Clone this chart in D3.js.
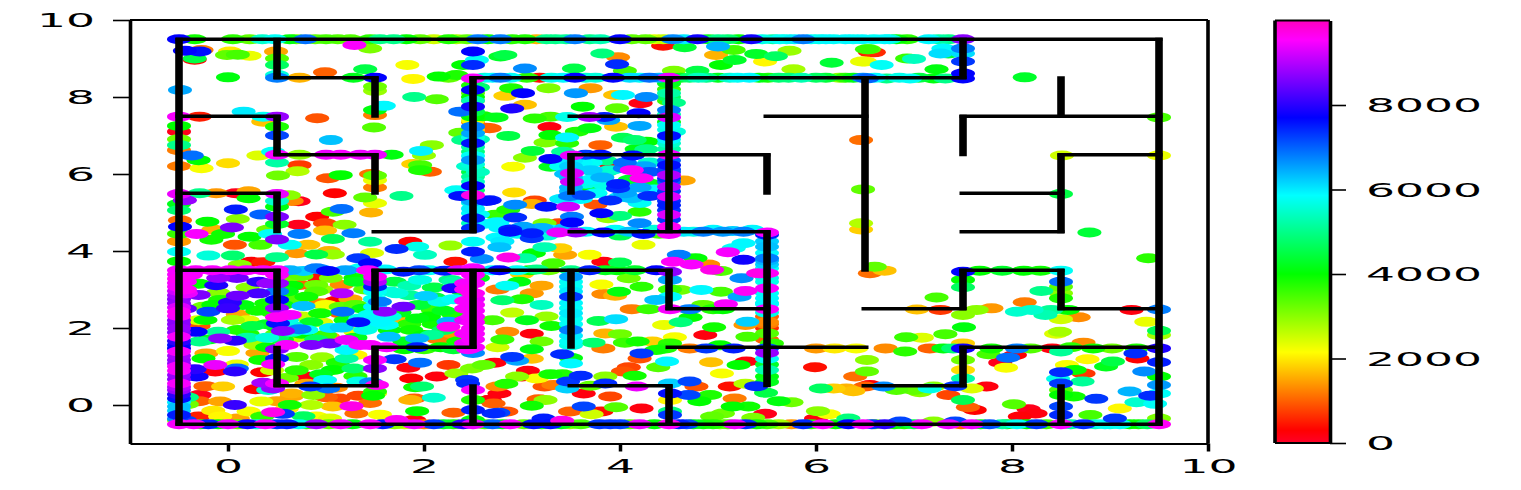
<!DOCTYPE html>
<html>
<head>
<title>Maze scatter</title>
<script src="https://d3js.org/d3.v7.min.js"></script>
<style>
  body { margin: 0; background: #fff; }
  text { font-family: "DejaVu Sans"; font-size: 19px; fill: #000; }
</style>
</head>
<body>
<script>
// tick labels
var xTicks = [0, 2, 4, 6, 8, 10];
var yTicks = [0, 2, 4, 6, 8, 10];
var barTicks = [0, 2000, 4000, 6000, 8000];

// gist_rainbow stops
var cmapStops = [0, 0.03, 0.215, 0.4, 0.586, 0.77, 0.954, 1];
var cmapColors = ["#ff0029", "#ff0000", "#ffff00", "#00ff00", "#00ffff", "#0000ff", "#ff00ff", "#ff00bf"];

// maze walls: [y, x0, x1]
var wallsH = [
  [9.5,-0.5,9.5],[-0.5,-0.5,9.5],[8.5,0.5,1.5],[8.5,2.5,7.5],[7.5,-0.5,0.5],[7.5,3.5,4.5],[7.5,5.5,6.5],[7.5,7.5,9.5],
  [6.5,0.5,1.5],[6.5,3.5,5.5],[6.5,8.5,9.5],[5.5,-0.5,0.5],[5.5,7.5,8.5],[4.5,1.5,2.5],[4.5,3.5,5.5],[4.5,7.5,8.5],
  [3.5,-0.5,0.5],[3.5,1.5,4.5],[3.5,7.5,8.5],[2.5,4.5,5.5],[2.5,6.5,7.5],[2.5,8.5,9.5],[1.5,1.5,2.5],[1.5,4.5,6.5],
  [1.5,7.5,9.5],[0.5,0.5,1.5],[0.5,3.5,4.5],[0.5,6.5,7.5]
];
// maze walls: [x, y0, y1]
var wallsV = [
  [-0.5,-0.5,9.5],[9.5,-0.5,9.5],[0.5,8.5,9.5],[7.5,8.5,9.5],[1.5,7.5,8.5],[8.5,7.5,8.5],[2.5,4.5,8.5],[4.5,4.5,8.5],
  [6.5,3.5,8.5],[0.5,6.5,7.5],[7.5,6.5,7.5],[1.5,5.5,6.5],[3.5,5.5,6.5],[5.5,5.5,6.5],[0.5,4.5,5.5],[8.5,4.5,6.5],
  [5.5,0.5,4.5],[0.5,2.5,3.5],[1.5,2.5,3.5],[2.5,1.5,3.5],[3.5,1.5,3.5],[4.5,2.5,3.5],[7.5,2.5,3.5],[8.5,2.5,3.5],
  [0.5,0.5,1.5],[1.5,0.5,1.5],[7.5,0.5,1.5],[2.5,-0.5,0.5],[4.5,-0.5,0.5],[8.5,-0.5,0.5]
];

// scatter points: [x, y, value]
var pointsTopRow = [
  [-0.5,9.5,7700],[-0.34,9.5,3900],[0.22,9.5,3300],[0.48,9.5,5800],[0.63,9.5,4100],[0.79,9.5,6900],[0.89,9.5,3300],[1.12,9.5,3400],
  [1.45,9.5,3700],[1.69,9.5,5000],[1.96,9.5,3300],[2.1,9.5,2500],[2.44,9.5,3300],[2.55,9.5,6800],[3.03,9.5,3800],[3.15,9.5,1600],
  [3.34,9.5,5000],[3.54,9.5,6800],[3.69,9.5,5000],[4,9.5,7700],[4.26,9.5,3300],[4.44,9.5,2600],[4.54,9.5,6700],[4.79,9.5,7800],
  [5,9.5,5000],[5.21,9.5,4000],[5.34,9.5,7800],[5.56,9.5,5200],[5.87,9.5,6800],[6.18,9.5,5800],[6.38,9.5,5800],[6.59,9.5,5800],
  [6.93,9.5,3700],[7.35,9.5,5000],[7.5,9.5,8700],[5.7,9.5,5700],[6.03,9.5,5700],[6.75,9.5,5600],
  [0.05,9.5,3700],[0.35,9.5,5500],[0.7,9.5,3200],[1,9.5,3500],[1.25,9.5,3400],[1.55,9.5,5000],[1.82,9.5,4000],[2.25,9.5,3800],[2.33,9.5,2800],
  [2.65,9.5,4000],[2.78,9.5,6800],[2.9,9.5,3700],[3.25,9.5,5000],[3.45,9.5,5100],[3.8,9.5,5300],[4.12,9.5,3300],[4.35,9.5,2300],[4.65,9.5,6000],
  [4.9,9.5,4200],[5.1,9.5,4800],[5.45,9.5,5700],[5.63,9.5,5800],[5.78,9.5,6000],[5.95,9.5,5800],[6.1,9.5,5900],[6.3,9.5,5900],[6.47,9.5,5900],
  [6.7,9.5,5900],[6.82,9.5,4000],[7.15,9.5,5900],[7.25,9.5,5200]
];
var pointsTopLeft = [
  [1.29,9.35,9500],[1.45,9.26,3100],[-0.44,9.2,7700],[-0.29,9.18,7600],[-0.34,9,4500],[-0.34,8.97,300],[-0.27,9.22,1200],[0.02,9.18,2000],
  [0.1,9.1,3500],[-0.01,9.09,3300],[0.22,9.07,2300],[0.49,9.18,1500],[0.5,9,3400],[0.5,8.83,4700],[0.5,8.57,5600],[0.5,8.5,6800],
  [0.73,8.5,1600],[0.99,8.64,1000],[1.4,8.72,4500],[1.28,8.5,4200],[1.5,8.5,7700],[1.83,8.83,2200],[1.89,8.47,2100],[2.15,8.53,4000],
  [2.25,8.5,3300],[2.33,8.57,3800],[2.5,9.18,7700],[2.54,8.96,5800],[2.5,8.83,7400],[2.4,8.83,4000],[2.78,9.05,4300],[0,8.51,4100],
  [-0.49,8.18,6500],[1.5,8.27,3200],[1.5,8.16,2900],[1.9,8,5000],[2.13,7.94,3400],[2.37,7.62,6900],[1.59,7.77,5900],[1.5,7.66,4100],
  [1.5,7.53,1200],[0.91,7.45,900],[0.16,7.62,6000],[-0.29,7.49,500],[-0.5,7.49,9500],[0.5,7.49,8800],[0.36,7.49,5800],[-0.5,7.25,4000],
  [-0.5,7.1,100],[-0.5,6.9,3200],[-0.5,6.75,5000],[-0.5,6.62,1200],[0.5,7.23,3800],[0.5,7,7200],[0.36,7.36,1700],[1.49,7.21,3400],
  [1.05,6.88,6300],[2.37,7.07,3300],[2.4,6.88,5000],[2.08,6.75,3000],[1.97,6.6,5950],[2,6.48,2900],[0.31,6.48,2400],[0.46,6.58,5800],
  [0.5,6.5,9500],[0.5,6.3,5200],[0.73,6.5,3000],[1,6.5,9400],[1.15,6.5,9500],[1.35,6.5,9400],[1.5,6.5,9400],[1.67,6.5,4100],
  [-0.37,6.48,6900],[-0.3,6.36,4000],[-0.27,6.15,2200],[-0.5,6.2,1200],[0,6.28,1900],[0.73,6.23,700],[0.51,5.96,3200],[0.71,6.07,2700],
  [1.02,5.89,900],[1.15,5.97,4000],[1.5,5.96,3300],[1.46,6,1100],[1.5,5.84,2300],[1.5,5.65,1200],[1.89,6.26,1800],[1.96,6.23,3500],
  [2.06,6.06,1000],[1.96,6.1,3800],[1.77,5.43,5000],[1.4,5.39,3300],[1.5,5.24,2300],[1.46,5,1600],[1.09,5.5,300],[1.16,5.09,6900],
  [1.07,5.02,3500],[0.91,4.89,300],[0.99,4.72,800],[0.72,4.68,100],[1.19,4.68,3000],[0.99,4.53,1700],[0.73,4.44,6800],[-0.5,5.48,9400],
  [-0.29,5.5,5000],[-0.12,5.5,1400],[0.08,5.5,100],[0.21,5.55,1500],[0.21,5.37,4000],[0.5,5.48,9400],[0.62,5.45,3000],[0.72,5.29,100],
  [0.65,5.3,1300],[-0.44,5.32,8800],[0.08,5.08,7500],[0.34,4.95,7000],[0.5,4.89,8600],[0.1,4.83,3000],[-0.21,4.76,4000],[0.04,4.61,8600],
  [-0.49,4.63,7700],[-0.49,4.8,1100],[-0.5,5.06,4800],[-0.5,5.22,4200],[-0.32,4.44,9500],[-0.15,4.55,1600],[-0.05,4.44,3900],[0.22,4.37,4000],
  [0.41,4.55,3200],[0.5,4.3,8600],[0.43,4.44,5800],[-0.5,4.45,3600],[-0.5,4.25,1400],[0.5,4.7,4300],[0.5,5.15,4100],[0.5,5.3,5500]
];
var pointsWallX25 = [
  [2.5,8.48,9500],[2.5,8.18,7700],[2.5,8,4000],[2.5,7.75,7800],[2.5,7.49,4000],[2.5,7.23,6800],[2.5,7.06,6500],[2.5,6.8,7600],
  [2.5,6.58,4900],[2.5,6.36,6600],[2.5,6.15,4100],[2.5,5.93,5100],[2.5,5.69,7700],[2.5,5.45,9700],[2.5,5.1,6000],[2.5,4.85,7500],
  [2.5,4.59,7400],[2.64,5.3,7600],[2.37,5.43,7600],[2.33,5.58,5800],[2.78,4.6,5900],[2.5,7.9,1200],[2.5,7.35,1100],[2.63,7.2,1000],
  [2.6,7.5,3900],[2.55,6.9,5300],[2.45,6.2,5500],[2.55,6.05,5400],[2.5,5.25,5700],[2.55,4.95,5800],[2.6,4.7,5900],[2.55,8.25,4800],[2.47,7.65,2400],
  [2.5,8.3,3800],[2.5,8.1,3300],[2.5,7.9,5300],[2.5,7.62,4500],[2.5,7.38,2100],[2.5,7.14,1800],[2.5,6.95,5700],[2.5,6.7,5200],[2.5,6.47,5800],
  [2.5,6.25,5600],[2.5,6.05,4500],[2.5,5.8,5400],[2.5,5.58,4800],[2.5,5.3,6500],[2.5,4.98,5800],[2.5,4.72,5400]
];
var pointsUpperMiddle = [
  [2.78,8.5,6800],[2.88,8.5,5800],[3.18,8.5,400],[3.54,8.5,7700],[3.93,8.5,7700],[4.3,8.5,6900],[4.5,8.5,9400],[4.71,8.5,4800],[4.88,8.5,5000],
  [5.32,8.5,5900],[5.51,8.5,3800],[6,8.5,4700],[6.24,8.5,3000],[6.38,8.5,4100],[6.48,8.5,6700],[4.44,9.33,400],[4.66,9.29,4400],[5,9.31,6400],
  [4.98,9.09,1600],[5.16,9.22,3500],[5.39,9.12,4300],[5.59,9.06,4700],[5.73,9.2,2900],[5.48,8.92,2100],[5.17,8.96,4300],[5.03,8.83,4000],
  [5.77,8.72,2800],[6.16,8.89,4400],[6.47,8.92,2300],[6.52,9.24,3600],[6.55,9.16,500],[2.83,9.09,4500],[3.03,8.74,6700],[3.53,8.74,4500],
  [3.82,9.13,4900],[3.98,9.03,1300],[3.97,8.85,7400],[4.05,8.68,3500],[4.55,8.68,3100],[4.79,8.68,4500],[3.01,8.1,7700],[3.27,8.23,3100],
  [2.89,8.23,3800],[2.83,8.03,1800],[3.03,7.8,1700],[2.9,7.7,7900],[3.55,8.1,6600],[3.7,8.23,1400],[3.95,8.05,1700],[4.03,8.05,5900],
  [4.27,8,6700],[4.21,7.84,150],[3.62,7.75,4000],[3.97,7.71,3300],[4.19,7.58,7700],[4.5,8,4700],[4.5,7.66,6800],[4.5,7.47,9300],[4.5,7.27,5800],
  [4.5,6.99,7600],[4.5,6.8,5500],[4.5,8.2,3600],[4.55,7.85,5000],[4.55,7.1,5600],[2.74,7.47,4200],[2.67,7.19,1000],[3.13,7.44,3700],[3.29,7.49,3500],[3.46,7.48,5700],
  [3.69,7.48,8900],[3.84,7.48,7500],[3.88,7.4,6500],[3.96,7.23,1700],[4.2,7.25,6500],[3.28,7.22,200],[3.69,7.19,4100],[3.56,7.1,3800],
  [3.29,7.01,4000],[2.86,6.99,4500],[3.24,6.82,3100],[3.46,6.95,5900],[3.46,6.8,3700],[4.03,6.94,4600],[4.15,6.88,4800],[3.8,6.75,1000],
  [4.27,6.84,4000],[4.17,6.65,4100],[4.27,6.64,5000],[3.11,6.6,4400],[3.03,6.42,3000],[3.29,6.39,7700],[3.29,6.19,4200],[2.91,6.19,2200],
  [3.42,6.58,5100],[3.51,6.48,9400],[3.8,6.5,7600],[4.13,6.48,7600],[4.5,6.5,9500],[3.65,6.5,7300],[3.9,6.26,300],[4.05,6.15,6800],[4.12,6.1,9600],
  [4.22,5.89,9600],[3.51,6.02,9300],[3.51,5.8,9200],[3.82,5.91,6400],[3.98,5.74,7500],[3.98,5.63,7400],[3.63,5.45,7200],[3.49,5.43,6800],
  [3.9,5.31,7400],[4.12,5.37,6300],[4.3,5.43,7400],[4.5,6.23,7600],[4.5,5.97,9000],[4.5,5.67,9000],[4.5,5.41,9300],[4.5,5.19,7500],[4.5,4.94,9300],
  [4.5,4.63,9600],[4.5,6.05,7200],[4.5,5.8,7000],[4.65,5.83,1500],[3.47,5.15,9200],[3.51,4.89,6800],[3.51,4.74,7700],[3.81,4.98,7700],[4,4.91,4900],
  [4.2,5.02,3700],[4.2,4.72,6700],[3.88,4.85,2900],[3.4,6.2,5800],[3.45,6,6300],[3.6,6.3,5900],[4.3,6.3,5500],[3.75,6.05,4800],[3.65,5.75,5700],[4.3,5.75,4200],[3.4,5.35,6000],[3.85,6.05,4300],[4.05,5.5,6500],[3.75,5.2,900],
  [2.92,5.52,1900],[2.67,5.32,7500],[2.93,5.2,6700],[3.13,5.31,800],[3.1,5.22,1600],[3.25,5.15,7600],[2.93,4.87,7400],[2.86,5.07,3800],
  [2.73,4.94,3600],[3.23,4.72,3100],[3.38,4.72,800],[3.01,4.63,6500],[2.88,4.56,7500],[3.1,4.46,7500],[3.37,4.48,9400],[3.55,4.48,8800],
  [3.83,4.48,7700],[4.24,4.44,7600],[4.5,4.44,9500],[4.85,4.5,6800],[5.05,4.5,6600],[5.26,4.5,6800],[5.5,4.48,9500],[2.75,4.75,5900],[2.95,4.45,5800],[3.25,4.4,5600],[4,4.4,4600],[4.4,4.45,3500],
  [2.62,8.5,5600],[2.7,8.5,5900],[3.05,8.5,3700],[3.3,8.5,5700],[3.42,8.5,5900],[3.65,8.5,5500],[3.75,8.5,5600],[4.1,8.5,6100],[4.2,8.5,5800],[4.4,8.5,6400],[4.62,8.5,4200],[4.8,8.5,5400],
  [5,8.5,4200],[5.12,8.5,5500],[5.2,8.5,5800],[5.42,8.5,4100],[5.62,8.5,4800],[5.72,8.5,4900],[5.85,8.5,5300],[6.1,8.5,4400],[6.3,8.5,3700],[6.6,8.5,5900],[6.85,8.5,5700],[7.05,8.5,4500],
  [4.5,8.35,4200],[4.5,8.1,5200],[4.5,7.9,3600],[4.5,7.55,5300],[4.5,7.35,4100],[4.5,7.15,5700],[4.5,6.9,5900],[4.5,6.65,5200],[4.5,6.35,7000],[4.5,6.12,7200],[4.5,5.88,7400],[4.5,5.55,7300],
  [4.5,5.3,7400],[4.5,5.06,7300],[4.5,4.82,7300],[4.5,4.55,7500],[3.5,6.35,6000],[3.5,6.2,6200],[3.5,5.9,6300],[3.5,5.65,6400],[3.5,5.55,6300],
  [3.7,6.3,5800],[3.85,6.35,5000],[4.05,6.3,6900],[4.25,6.2,6500],[3.7,6.1,6200],[3.9,6.1,5500],[4.3,6.05,7100],[3.7,5.85,5900],[3.85,5.7,5700],[4.1,5.85,4300],[4.2,5.65,6500],[3.65,5.6,4000],
  [4.35,5.6,5900],[3.75,5.5,5800],[4,5.4,6100],[4.2,5.25,5800],[3.6,5.35,5900],[3.3,4.55,5800],[3.45,4.6,6300],[3.65,4.5,5900],[3.95,4.55,5800],[4.1,4.5,6300],[4.35,4.55,5600],[4.65,4.5,6000],
  [4.75,4.5,5700],[4.95,4.55,5900],[5.15,4.52,6200],[5.35,4.55,5900],[2.75,4.35,5900],[3,4.6,6100],[3.2,4.6,6400],[2.8,4.25,6000]
];
var pointsFarRight = [
  [6.46,6.88,1100],[6.48,5.6,3300],[6.46,4.72,2700],[6.46,4.56,1800],[6.54,9.24,3400],[6.59,9.16,600],[6.5,8.92,2100],[6.67,8.83,5800],
  [6.93,9,3600],[7,8.99,5400],[7.3,9.26,5900],[7.27,9.13,6100],[7.35,9.13,4400],[7.5,9.26,6800],[7.5,9.13,6100],[7.5,8.92,7300],[7.5,8.61,7700],
  [7.5,8.48,7700],[7.23,8.72,4100],[6.96,8.48,5800],[7.2,8.48,4100],[7.32,8.48,5000],[6.52,8.48,7000],[6.72,8.48,5000],[8.13,8.51,4300],
  [9.5,7.47,3500],[8.51,6.48,2500],[9.5,6.48,2300],[8.5,5.48,4500],[8.79,4.48,4400],[6.6,3.59,3300],[6.7,3.49,1700],[6.55,3.42,1100],
  [9.39,3.81,3700],[7.23,2.79,3500],[7.03,2.48,1700],[7.27,2.47,700],[7.5,3.46,7700],[7.67,3.49,4000],[7.9,3.49,4300],[8.12,3.49,4000],
  [8.29,3.49,3900],[8.5,3.49,5800],[8.5,3.2,6900],[8.5,3.07,3300],[8.5,2.9,3000],[8.5,2.77,3800],[7.5,3.25,4000],[7.5,3.06,4700],[8.3,2.96,5000],
  [8.13,2.67,1200],[7.79,2.51,1400],[7.64,2.47,3000],[7.5,2.34,3000],[8.05,2.42,5500],[8.2,2.47,5500],[8.34,2.34,5300],[8.4,2.47,5100],
  [8.57,2.47,4000],[8.68,2.28,1300],[8.5,2.23,2500],[9.22,2.47,200],[9.5,2.48,6800],[9.37,2.16,2300],[9.5,1.93,4600],[9.5,1.82,2800],
  [8.49,1.9,2800],[8.45,1.85,2400],[7.51,2.02,4100],[7.32,1.84,3500],[6.92,1.76,3600],[7.08,1.75,2400],[7.5,1.6,1800],[6.71,1.47,1300],
  [6.91,1.39,3700],[7.16,1.47,1000],[7.3,1.47,4100],[7.4,1.47,4800],[7.5,1.47,7800],[7.79,1.47,3900],[8.05,1.47,6800],[8.19,1.47,3400],[8.41,1.47,200],
  [8.5,1.39,5100],[8.6,1.5,3700],[8.73,1.62,1300],[8.83,1.47,3900],[9.02,1.47,3200],[9.27,1.47,3800],[9.5,1.47,7900],[7.76,1.32,3500],
  [7.96,1.23,6900],[8.03,1.3,300],[7.88,1.1,100],[7.94,0.97,2200],[9.26,1.34,7400],[7.5,1.17,3200],[7.5,0.91,1900],[7.5,0.69,5200],[7.59,0.43,2400],
  [7.42,0.49,7300],[7.74,0.48,200],[7.35,0.26,800],[7.5,0.13,4600],[7.55,-0.06,1000],[7.62,-0.13,300],[8.02,0.02,3400],[8.17,-0.11,100],
  [8.24,-0.22,200],[8.08,-0.3,250],[8.77,1.19,2100],[8.56,1.04,2200],[8.64,0.91,4000],[8.5,0.85,7400],[8.73,0.82,700],[8.96,1,4200],[9.03,1.13,4500],
  [9.28,1.21,300],[9.5,1.11,7500],[9.35,0.87,6700],[9.5,0.74,4000],[9.5,0.52,6600],[9.5,0.3,5800],[9.41,0.24,7400],[9.46,0.03,5800],[9.2,0.35,6400],
  [8.86,0.16,7300],[9.27,0.07,5500],[9.1,-0.09,2100],[8.8,-0.26,3500],[9.05,-0.35,7300],[9.5,-0.35,3100],[8.72,0.61,5100],[8.63,0.22,3900],
  [8.5,0.56,7300],[8.47,0.68,5700],[8.5,0.39,3400],[8.5,0.26,4000],[8.5,-0.04,7200],[8.5,-0.26,7400],[7.2,0.48,3000],[7,0.39,3300],[6.82,0.39,3400],
  [7.06,0.33,3000],[6.69,0.48,6700],[6.55,0.52,300],[7.16,0.43,5700],[6.86,-0.43,7200],[7.2,-0.43,3000],[7.42,-0.43,7200],
  [6.57,-0.5,7300],[7.08,-0.5,9500],[7.35,-0.5,9400],[7.59,-0.5,9400],[7.77,-0.5,7100],[8.05,-0.5,5800],[8.25,-0.5,7300],[8.5,-0.5,9500],[8.73,-0.5,7400],
  [8.95,-0.5,5800],[9.1,-0.5,5800],[9.29,-0.5,3900],[9.5,-0.5,9600],[6.8,-0.5,3900],[7.95,-0.5,4100],[8.35,-0.5,3500],
  [6.6,-0.5,3200],[6.7,-0.5,8000],[6.9,-0.5,3800],[7,-0.5,4500],[7.48,-0.5,1000],[7.68,-0.5,4200],[7.9,-0.5,5200],[8.15,-0.5,4000],[8.6,-0.5,5200],[8.85,-0.5,5500],[9,-0.5,5600],[9.2,-0.5,4000],[9.38,-0.5,4700]
];
var pointsLowerMiddle = [
  [4.24,4.16,2300],[3.1,4.33,7300],[3.23,4.1,5300],[3.39,4.07,1800],[3.44,3.9,1500],[3.12,3.94,4000],[3.03,3.81,5200],[2.86,3.83,9700],[2.77,4.1,6300],
  [2.88,4.5,7600],[3.69,3.9,2200],[3.32,3.68,3500],[3.83,3.72,200],[4,3.7,4600],[4.6,3.9,6800],[4.54,3.72,9600],[4.73,3.65,9500],[4.77,3.81,4000],
  [4.9,3.65,1300],[4.94,3.51,9700],[5.03,3.48,3400],[5.1,3.97,9500],[5.26,4.2,5900],[5.16,4.07,5800],[5.26,3.77,7800],[5.5,4.42,7500],[5.5,4.11,6300],
  [5.5,3.81,6800],[5.5,3.42,9600],[5.5,3.03,9500],[5.5,2.77,5900],[5.5,2.49,9500],[5.5,2.16,1300],[5.5,1.86,3400],[5.5,1.47,7200],[5.5,1.35,8800],[5.5,0.91,5300],
  [5.5,0.74,4100],[5.5,3.95,5900],[5.5,3.65,6200],[5.5,3.2,5700],[5.5,2.65,5600],[5.5,2.3,1000],[5.5,2,600],[5.55,1.6,3700],[5.24,3.29,6700],[5.41,3.42,9700],[5.28,2.96,9600],[5.22,2.81,6500],[5.08,2.62,9500],[4.83,2.99,5900],[5.03,2.94,3500],
  [4.85,2.6,3300],[4.51,3.46,8700],[4.51,3.25,6500],[4.51,3,3600],[4.37,2.73,6300],[4.51,2.81,5900],[4.61,2.99,3200],[4.51,2.49,9500],[4.71,2.49,6800],
  [5.05,2.49,4000],[4.95,2.49,3800],[2.77,3.5,7700],[3.08,3.5,4000],[3.27,3.5,3200],[3.69,3.5,7500],[3.97,3.5,4000],[4.37,3.5,7700],[3.5,3.5,5000],[3.5,3.33,6600],[3.5,3.07,5800],
  [3.5,2.81,7300],[3.5,2.51,5800],[3.5,2.25,5800],[3.5,1.95,6800],[3.5,1.65,5800],[3.41,1.32,7400],[3.5,1.08,5900],[3.5,1.22,4100],[3.81,3.13,2200],[3.83,2.88,1300],
  [3.99,2.94,4100],[3.95,2.84,1600],[4.09,3.29,3200],[4.22,3.07,3700],[4.12,2.49,1200],[4.29,2.49,3600],[3.96,2.23,6100],[3.78,2.18,4600],[4.45,2.08,2300],
  [4.62,2.15,4900],[4.72,2.28,4000],[4.96,2.02,3900],[4.87,1.82,200],[4.56,1.76,2200],[3.85,1.86,1600],[4,1.84,3200],[4.05,1.62,3600],[4.18,1.65,3900],
  [4.33,1.65,1800],[4.51,1.6,3700],[4.46,1.47,3800],[4.37,1.43,3900],[3.73,1.62,4800],[3.83,1.47,1200],[4.22,1.34,7300],[4.2,1.21,900],[4.48,1.13,5900],
  [4.39,0.98,3400],[4.09,0.98,800],[4.15,0.76,3900],[4.03,0.87,900],[4.71,1.47,1200],[4.88,1.47,7300],[5.16,1.47,7500],[5.02,1.55,4000],[5.3,1.77,3500],
  [5.3,2.16,6200],[5.28,2.08,1400],[4.93,1.11,1700],[5.21,1.04,4000],[5.29,1.13,200],[5.04,0.82,2200],[5.12,0.48,400],[5.28,0.55,2700],[5.39,0.49,7400],
  [5.49,0.32,4500],[5.62,0.1,4100],[5.75,0.07,3200],[5.17,0.17,1200],[5.15,-0.04,4000],[5.31,-0.04,3900],[5.48,-0.23,100],[5.36,-0.33,3100],[4.94,-0.3,3300],
  [5.05,-0.22,3200],[4.81,0.1,4000],[4.92,0.26,3800],[4.7,0.26,7200],[4.71,0.61,7200],[4.78,0.48,900],[4.51,0.56,6200],[4.51,0.3,7600],[4.51,0.13,2100],
  [4.51,-0.17,4900],[4.51,-0.26,7300],[4.22,-0.09,200],[3.96,-0.06,3400],[3.9,0.22,800],[3.63,-0.04,7200],[3.71,-0.24,2500],[3.81,-0.17,400],[3.49,-0.17,1000],
  [3.41,-0.41,9700],[3.22,-0.35,7500],[3.24,0.13,3000],[3.1,-0.02,3900],[3.17,0.15,1000],[2.84,-0.17,900],[2.76,-0.2,7200],[2.77,0.3,200],[2.67,0.13,100],
  [2.84,0.55,3800],[2.75,0.48,1300],[3,0.74,300],[3.06,0.89,200],[2.95,0.74,3000],[3.15,0.69,2200],[3.29,0.8,3900],[3.41,0.8,3800],[3.23,0.48,900],[3.32,0.52,1200],
  [3.47,0.61,7300],[3.6,0.76,7400],[3.46,0.43,6200],[3.63,0.3,200],[3.85,0.56,7400],[3.85,0.74,3000],[4.17,0.48,9400],[3.7,0.5,3300],[2.88,-0.5,9500],[3.12,-0.5,7600],
  [3.29,-0.5,7600],[3.49,-0.5,3000],[3.79,-0.5,7300],[4,-0.5,7200],[4.2,-0.5,9400],[4.5,-0.5,9600],[4.68,-0.5,7200],[5.17,-0.5,9400],[5.39,-0.5,3900],[5.75,-0.5,1400],
  [5.87,-0.5,7400],[6.07,-0.5,9500],[6.33,-0.5,7700],[6.48,-0.5,9500],[4.85,-0.5,3900],[5.02,-0.5,3200],[6,1.47,1400],[6.19,1.47,2000],[6.41,1.47,2200],[5.99,0.98,400],
  [6.4,0.74,1100],[6.52,1.17,3000],[6.52,0.87,3300],[6.31,0.43,1600],[6.38,0.36,1700],[6.18,0.43,1800],[6.05,0.43,4700],[6.02,-0.16,3000],[6.13,-0.24,2200],
  [6.33,-0.35,4900],[6,-0.35,200],[6.5,0.48,1000],[2.97,3.2,4100],[3.1,2.9,1400],[3,2.75,3800],[3.2,2.6,5400],[2.75,3,1200],[2.9,2.4,2600],[3.05,2.2,4200],[3.25,2.3,2900],
  [2.85,1.9,1300],[3.1,1.85,200],[3.2,1.65,3200],[2.8,1.7,3600],[3.1,1.45,4100],[2.75,1.5,2500],[2.9,1.25,7300],[2.95,1.15,6500],[3.1,1.2,1700],[2.72,1.1,200],
  [2.85,3.1,5800],[2.8,2.72,4800],[3,3.4,1800],[2.7,2.2,3500],[3.2,3.1,1500],[3.3,2.05,3900],
  [2.8,-0.5,4000],[3.02,-0.5,3300],[3.2,-0.5,3800],[3.4,-0.5,4200],[3.6,-0.5,3500],[3.9,-0.5,7300],[4.1,-0.5,3300],[4.35,-0.5,4000],[4.6,-0.5,7500],[4.75,-0.5,4200],[4.95,-0.5,3800],[5.1,-0.5,3400],
  [5.28,-0.5,7400],[5.5,-0.5,3500],[5.62,-0.5,2800],[5.95,-0.5,3700],[6.2,-0.5,4000],[5.5,4.25,6200],[5.5,3.75,6400],[5.5,3.55,5800],[5.5,3.3,5700],[5.5,2.9,5800],[5.5,2.62,5900],[5.5,2.4,5700],
  [5.5,2.1,1200],[5.5,1.7,1000],[5.5,1.2,5800],[5.5,1.05,4300],[5.5,0.6,4200],[3.5,3.2,5800],[3.5,2.95,6000],[3.5,2.65,5900],[3.5,2.38,6000],[3.5,2.1,5800],[3.5,1.8,6000],[3.5,1.55,5700],
  [2.7,3.5,6000],[2.95,3.5,5800],[3.15,3.52,5000],[3.85,3.5,4200],[4.15,3.5,4300]
];
var pointsLeftBand = [
  [-0.5,3.5,9500],[-0.5,3.28,9600],[-0.5,3.07,9500],[-0.5,2.85,8900],[-0.5,2.64,8800],[-0.5,2.42,9600],[-0.5,2.2,8700],[-0.5,1.99,8800],[-0.5,1.77,9500],
  [-0.5,1.56,7600],[-0.5,1.39,9500],[-0.5,1.17,8800],[-0.5,1,9500],[-0.5,0.78,8800],[-0.5,0.56,9500],[-0.5,0.39,8800],[-0.5,0.17,7600],[-0.5,-0.04,6300],
  [-0.5,-0.26,7500],[-0.5,-0.5,9500],[-0.44,3.2,9500],[-0.43,2.9,9400],[-0.44,2.5,8400],[-0.44,3.0,9600],[-0.33,3.5,9500],[-0.16,3.5,9500],[0.02,3.5,9500],[0.19,3.5,9500],
  [0.36,3.5,9500],[0.5,3.5,9500],[-0.38,3.38,9500],[-0.42,0.2,5000],[-0.42,0.02,3200],[-0.44,-0.4,7200],[-0.5,-0.4,3000],[-0.35,-0.5,9500],[-0.2,-0.5,7500],[0,-0.5,9400],[0.2,-0.5,7800],
  [0.38,-0.5,9500],[0.6,-0.5,7500],[0.9,-0.5,8800],[1.15,-0.5,9400],[1.45,-0.5,9500],[1.7,-0.5,3000],[1.9,-0.5,9400],[2.1,-0.5,7300],[2.3,-0.5,3800],[2.5,-0.5,9400],[2.7,-0.5,7000],
  [0.5,3.38,9500],[0.5,3.16,8800],[0.5,2.95,6800],[0.5,2.73,7700],[0.5,2.51,8800],
  [-0.5,3.39,9500],[-0.5,3.17,9500],[-0.5,2.96,9200],[-0.5,2.75,8700],[-0.5,2.53,9300],[-0.5,2.31,9500],[-0.5,2.1,8700],[-0.5,1.88,8700],[-0.5,1.66,8000],[-0.5,1.47,7700],[-0.5,1.28,8900],
  [-0.5,1.08,8800],[-0.5,0.89,9500],[-0.5,0.67,8700],[-0.5,0.47,9000],[-0.5,0.28,8000],[-0.5,0.07,6000],[-0.5,-0.15,6200],[-0.5,-0.36,6700],
  [-0.28,-0.5,3800],[-0.1,-0.5,4000],[0.1,-0.5,3300],[0.3,-0.5,5600],[0.5,-0.5,7400],[0.72,-0.5,5800],[0.8,-0.5,3600],[1.03,-0.5,3300],[1.27,-0.5,4100],[1.58,-0.5,7500],[1.8,-0.5,2500],[2,-0.5,1200],
  [2.2,-0.5,4300],[2.4,-0.5,8000],[2.62,-0.5,3500]
];
var pointsLowerLeft = [
  [-0.17,4.29,3900],[0.07,4.16,900],[0.33,4.16,3500],[0.63,4.16,5800],[0.82,4.16,1700],[1.07,4.31,4600],[0.7,3.94,1400],[0.9,3.91,4500],[1.07,3.91,2900],
  [1.03,4,1600],[-0.2,3.88,5600],[0.05,3.88,4800],[0.5,3.84,5000],[-0.5,3.98,5800],[-0.5,3.73,4000],[1.33,3.81,7300],[1.72,4.05,7400],[1.93,4.11,5700],
  [2.01,3.9,5400],[1.47,3.95,2400],[2.27,4.14,2900],[2.32,3.72,400],[2.5,3.98,7500],[2.5,4.24,5800],[2.59,3.79,6700],[2.5,3.55,9500],[1.86,4.24,300],[1.45,4.24,5100],
  [1.28,4.46,6800],[0.24,3.72,300],[0.36,3.71,500],[0.12,3.64,3000],[1.45,3.68,7700],[1.43,3.5,9500],[-0.1,3.3,8800],[0.09,3.3,8500],[-0.12,3.11,7900],[0.31,3.2,8000],
  [0.41,3.16,8800],[0.31,2.9,8200],[0.1,2.84,8500],[0.02,2.66,8000],[0,2.51,8100],[-0.3,2.86,8600],[-0.2,2.42,7200],[-0.23,2.21,4000],[0.05,2.21,2800],[-0.08,2.73,3800],
  [-0.1,2.92,3000],[-0.25,2.55,3200],[-0.33,1.9,7700],[-0.1,1.9,5100],[-0.08,1.73,8700],[0.07,1.67,8000],[-0.29,1.65,5000],[0.28,1.56,2800],[-0.22,1.34,1500],[-0.25,1.21,4000],
  [-0.13,1.04,9400],[0.07,0.87,8000],[0.09,0.95,6900],[-0.13,0.87,200],[0.09,1.05,2300],[-0.34,0.93,8000],[-0.32,0.74,7800],[-0.23,0.49,1000],[-0.05,0.48,1800],[-0.29,0.26,100],
  [-0.08,0.09,1500],[0.07,0,8100],[0.34,0.09,2300],[0.21,-0.17,2200],[-0.08,-0.3,2100],[0.46,-0.19,9700],[0.63,0,3900],[0.85,0,2700],[0.56,-0.23,7300],[0.77,-0.29,4700],
  [1.07,-0.04,1700],[1.26,-0.03,9700],[1.13,0.17,800],[1.31,-0.22,1100],[1.04,-0.35,2400],[0.9,-0.3,2200],[1.72,-0.39,9600],[1.86,0.13,1600],[1.9,0.17,1000],[1.93,-0.16,4000],
  [1.9,-0.39,200],[2.3,-0.2,1000],[2.1,0.19,5500],[1.91,0.46,3900],[1.98,0.48,4800],[2.13,0.74,200],[1.87,0.69,300],[1.84,0.97,200],[2.25,1.04,700],[1.96,1.1,6900],
  [1.7,1.19,7300],[2.33,0.82,2900],[2.49,0.95,3100],[2.61,1.04,3300],[2.44,0.65,7300],[2.45,0.55,7400],[2.5,0.39,9500],[2.5,0.13,3800],[2.5,-0.13,7500],[2.5,-0.39,4100],
  [2.71,0.04,1000],[2.67,0.13,200],[2.71,-0.22,7400],[1.79,3.46,7500],[2.21,3.49,7500],[1.96,3.25,5700],[2.27,3.25,5000],[2.3,3.03,7900],[1.72,2.9,5600],[2.02,2.83,6200],
  [2.16,2.68,5700],[1.79,2.55,8500],[1.6,2.42,8700],[1.55,2.68,6800],[1.5,3.07,7500],[1.5,3.33,9500],[2.09,2.47,3600],[2.25,2.16,6400],[2.25,2.03,9600],[1.93,2.25,4100],
  [1.87,1.95,3900],[2.08,1.82,5100],[1.64,1.77,6300],[1.93,1.73,6400],[2.5,3.38,9500],[2.5,3.16,9500],[2.5,2.9,9600],[2.5,2.6,9500],[2.5,2.29,9500],[2.5,1.99,9500],[2.5,1.7,9500],
  [2.5,1.5,9500],[2.5,1.35,6700],[2.43,3.16,9500],[2.43,2.7,9500],[2.43,1.6,9400],[1.49,2.21,5900],[1.43,2.03,5700],[1.62,2.08,5800],[1.76,2.25,1600],[2,1.82,4000],[1.35,1.56,9500],
  [1.45,1.56,9500],[1.21,1.69,9400],[1.62,1.5,9500],[1.93,1.5,7500],[2.17,1.5,4000],[0.77,3.48,6200],[1.02,3.48,7700],[0.9,3.55,6800],[0.9,3.12,3200],[1.16,3.12,1300],
  [1.16,2.9,9000],[0.92,3.3,400],[0.73,3.12,1000],[0.8,2.81,3900],[0.77,2.57,6300],[1.17,2.42,6900],[0.5,2.28,9600],[0.63,2.34,9500],[0.56,1.92,8700],[0.73,1.97,6800],
  [0.5,2.03,4100],[0.51,2.12,7600],[0.94,2.38,3900],[1.33,2.15,7600],[1.16,2.01,6200],[0.99,1.82,3600],[0.6,1.56,9500],[0.5,1.45,8700],[0.85,1.56,8600],[1.04,1.6,8500],
  [1.21,1.43,5900],[0.5,1.21,7500],[0.46,1.06,9500],[0.96,1.24,2900],[1.21,1.21,5200],[0.85,1.04,3000],[1.07,0.91,4000],[1.28,0.95,4800],[1.5,1.17,9500],[1.5,0.95,8700],
  [0.79,0.74,200],[0.99,0.65,5800],[1.33,0.61,5700],[1.46,0.59,6700],[1.52,0.52,9600],[0.5,0.56,9500],[0.46,0.43,8800],[0.84,0.48,7300],[1.02,0.43,6900],[0.28,0.41,300],
  [0.36,0.58,8900],[0.65,0.22,1500],[0.87,0.26,3000],[0.41,0.39,5500],[1.48,0.24,4000],[1.33,0.24,800],[0.33,1.17,3900],[0.2,1.85,3800],[0.39,2.64,3900],[0.3,2.45,3900],
  [0.2,2.2,2400],[0.4,1.75,5600],[0.55,1.7,4200],[0.68,1.75,2600],[0.95,2.15,2400],[1.15,2.38,1000],[1.02,1.78,1500],[0.55,2.6,4100],[1.3,2.6,3400],[1.38,2.5,4100],[1.15,2.55,3300],
  [0.94,2.64,1200],[1.1,2.7,300],[0.9,2.95,3400],[0.6,2.95,4100],[0.5,1.85,3300],[0.75,1.85,4000],[0.3,1.7,1900],[0.4,2.1,4300],[0.65,1.9,5500],[1.3,1.9,2300],[1.25,2.75,1500],
  [1.3,3.2,4200],[1.3,1.3,2100],[0.7,1.25,3400],[0.7,0.9,3700],[0.6,0.7,3200],[1.12,1.1,3800],[1.3,0.75,3700],[0.95,0.8,4200],[0.8,0.55,1500],[1.1,0.45,1300],[0.65,0.3,1600],[0.35,0.85,300],[0.45,0.9,2500],
  [0.63,3.5,6400],[0.95,3.52,6800],[1.2,3.5,6500],[1.35,3.55,5800],[1.6,3.52,5900],[1.95,3.5,7200],[2.05,3.5,5800],[2.35,3.5,9300],
  [1.5,3.2,9000],[1.5,2.95,5800],[1.5,2.75,5800],[1.5,2.55,5900],[1.45,2.35,5800],[1.55,2.35,5800],[1.55,2.15,5900],[1.35,2.25,5700],[1.65,2.3,5700],
  [2.43,3,9600],[2.43,2.5,9500],[2.43,2.2,9400],[2.43,1.85,9500],[2.55,3.3,4200],[2.5,2.75,9400],[2.5,2.45,9500],[2.5,2.15,9500],[2.5,1.85,9500],
  [1.8,1.45,4000],[2,1.45,3600],[2.3,1.45,4400],[2.45,1.45,9500],[1.7,3.2,4500],[1.85,3.1,5300],[2.1,3.05,4500],[2.3,3.2,5200],[2.4,2.95,4300],[1.65,2.95,5600],[1.85,2.85,5100],[2.1,2.8,4500],
  [2.3,2.75,5800],[1.95,2.6,4400],[2.2,2.45,4200],[1.75,2.4,4200],[2.05,2.3,4000],[2.3,2.35,3800],[1.85,2.1,3700],[2.1,2.1,3900],[1.65,1.95,4100],[2.3,1.85,1400],[2.15,1.7,1200],[1.8,1.65,4200],
  [2.2,1.95,4700],[2.35,1.65,3900],[0.6,3.3,3200],[0.75,3.35,3300],[1.05,3.3,3100],[1.3,3.3,4000],[0.65,3.1,4000],[0.95,3,2900],[1.4,3,3300],[0.7,2.75,3400],[1,2.6,2200],[1.2,2.2,4100],[0.75,2.3,2600],
  [0.85,2.15,4300],[0.6,2.2,5700],[0.65,2.05,5500],[0.8,1.95,5800],[1.05,2,6000],[1.3,1.75,4200],[1.4,1.95,5700],[0.5,1.75,4700],[0.9,1.7,4700],[-0.3,3.15,4000],[-0.15,2.6,4000],[0.15,2.6,4100],
  [0.2,3.05,3000],[-0.3,2.2,2400],[0.1,2.35,1500],[0.25,2.05,4500],[-0.3,2.05,900],[0.1,1.95,3800],[-0.2,1.7,4200],[0.2,1.75,5200],[0.3,1.35,1500],[0,1.4,2200],[0.4,1.5,4000],[0.45,2.4,3800],
  [-0.3,0.1,1000],[-0.15,-0.15,2000],[0.1,-0.35,1500],[0.35,-0.3,3700],[-0.3,-0.3,500],[0.5,0.1,1500],[0.6,-0.1,2000],[1,0.2,1000],[1.45,0.05,1100],[1.55,-0.25,2200],[1.5,0.35,3800],[1.5,0.3,2500]
];
var points = pointsTopRow.concat(pointsTopLeft, pointsWallX25, pointsUpperMiddle, pointsFarRight, pointsLowerMiddle, pointsLeftBand, pointsLowerLeft);

var width = 1521, height = 490;
var svg = d3.select("body").append("svg").attr("width", width).attr("height", height).style("display", "block");

var x = d3.scaleLinear().domain([-1, 10]).range([130, 1208]);
var y = d3.scaleLinear().domain([-1, 10]).range([443.5, 20]);
var c = d3.scaleLinear().domain(cmapStops.map(function(d) { return d * 10000; })).range(cmapColors).clamp(true);
var barY = d3.scaleLinear().domain([0, 10000]).range([443, 20.5]);

// later indices were drawn last, so sort by value
svg.append("g").selectAll("ellipse")
    .data(points.slice().sort(function(a, b) { return a[2] - b[2]; }))
  .enter().append("ellipse")
    .attr("cx", function(d) { return x(d[0]); })
    .attr("cy", function(d) { return y(d[1]); })
    .attr("rx", 12)
    .attr("ry", 5)
    .attr("fill", function(d) { return c(d[2]); });

// walls, the picture is stretched so widths differ per direction
svg.append("g").selectAll("line")
    .data(wallsH)
  .enter().append("line")
    .attr("x1", function(d) { return x(d[1]) - 3.5; })
    .attr("x2", function(d) { return x(d[2]) + 3.5; })
    .attr("y1", function(d) { return y(d[0]); })
    .attr("y2", function(d) { return y(d[0]); })
    .attr("stroke", "#000").attr("stroke-width", 3.4);
svg.append("g").selectAll("line")
    .data(wallsV)
  .enter().append("line")
    .attr("x1", function(d) { return x(d[0]); })
    .attr("x2", function(d) { return x(d[0]); })
    .attr("y1", function(d) { return y(d[1]) + 1.5; })
    .attr("y2", function(d) { return y(d[2]) - 1.5; })
    .attr("stroke", "#000").attr("stroke-width", 7.6);

// axes
var gx = svg.append("g").attr("transform", "translate(0,443.5)")
    .call(d3.axisBottom(x).tickValues(xTicks).tickSize(8).tickSizeOuter(0));
gx.select(".domain").attr("stroke", "#000").attr("stroke-width", 2);
gx.selectAll(".tick line").attr("stroke", "#000").attr("stroke-width", 3.5);
gx.selectAll("text").attr("y", 0).attr("dy", "0.73em")
    .attr("transform", "translate(0,16) scale(2.4,1)");

var gy = svg.append("g").attr("transform", "translate(130,0)")
    .call(d3.axisLeft(y).tickValues(yTicks).tickSize(17).tickSizeOuter(0));
gy.select(".domain").attr("stroke", "#000").attr("stroke-width", 3.6);
gy.selectAll(".tick line").attr("stroke", "#000").attr("stroke-width", 1.6);
gy.selectAll("text").attr("x", 0).attr("dy", "0.36em")
    .attr("transform", "translate(-35,0) scale(2.4,1)");

svg.append("line").attr("x1", 130).attr("x2", 1208).attr("y1", 20).attr("y2", 20)
    .attr("stroke", "#000").attr("stroke-width", 2);
svg.append("line").attr("x1", 1208).attr("x2", 1208).attr("y1", 20).attr("y2", 443.5)
    .attr("stroke", "#000").attr("stroke-width", 3.6);

// colorbar
var grad = svg.append("defs").append("linearGradient")
    .attr("id", "cbar").attr("x1", 0).attr("x2", 0).attr("y1", 1).attr("y2", 0);
cmapStops.forEach(function(s, i) {
  grad.append("stop").attr("offset", s).attr("stop-color", cmapColors[i]);
});
svg.append("rect").attr("x", 1275).attr("y", barY(10000))
    .attr("width", 55).attr("height", barY(0) - barY(10000))
    .attr("fill", "url(#cbar)");
svg.append("line").attr("x1", 1275).attr("x2", 1330).attr("y1", barY(10000)).attr("y2", barY(10000)).attr("stroke", "#000").attr("stroke-width", 2);
svg.append("line").attr("x1", 1275).attr("x2", 1330).attr("y1", barY(0)).attr("y2", barY(0)).attr("stroke", "#000").attr("stroke-width", 2);
svg.append("line").attr("x1", 1275).attr("x2", 1275).attr("y1", barY(0)).attr("y2", barY(10000)).attr("stroke", "#000").attr("stroke-width", 3.6);

var gb = svg.append("g").attr("transform", "translate(1330,0)")
    .call(d3.axisRight(barY).tickValues(barTicks).tickSize(16).tickSizeOuter(0).tickFormat(d3.format("d")));
gb.select(".domain").attr("stroke", "#000").attr("stroke-width", 3.6);
gb.selectAll(".tick line").attr("stroke", "#000").attr("stroke-width", 1.6);
gb.selectAll("text").attr("x", 0).attr("dy", "0.36em")
    .attr("transform", "translate(36,0) scale(2.4,1)");
</script>
</body>
</html>
